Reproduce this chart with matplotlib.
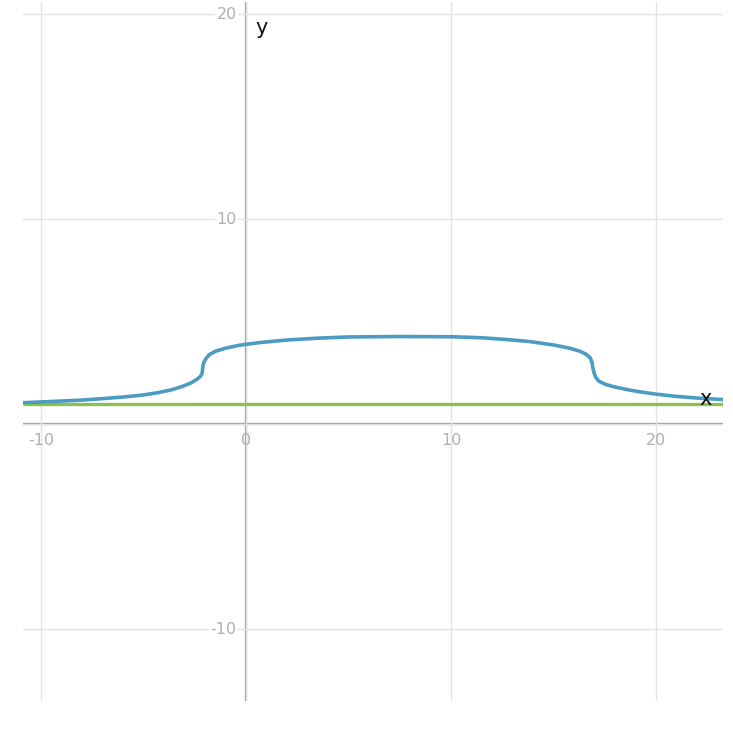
import matplotlib
matplotlib.use("Agg")
import matplotlib.pyplot as plt

# curve
CURVE_X = [-10.9, -9.5, -8.0, -7.0, -6.0, -5.0, -4.2, -3.6, -3.1, -2.7, -2.4,
           -2.25, -2.15, -2.12, -2.10, -2.05, -1.95, -1.8, -1.5, -1.0, -0.3,
           0.7, 2.0, 3.5, 5.0, 7.5, 10.0, 11.5, 12.5, 13.8, 15.0, 15.8, 16.3,
           16.6, 16.8, 16.88, 16.92, 16.98, 17.05, 17.2, 17.5, 17.9, 18.6,
           19.3, 20.0, 21.0, 22.0, 23.3]
CURVE_Y = [1.04, 1.10, 1.17, 1.24, 1.32, 1.42, 1.55, 1.68, 1.84, 2.00, 2.18,
           2.30, 2.45, 2.65, 2.85, 3.02, 3.20, 3.38, 3.55, 3.70, 3.85,
           3.98, 4.10, 4.19, 4.25, 4.27, 4.26, 4.21, 4.14, 4.03, 3.86, 3.70,
           3.55, 3.40, 3.22, 3.00, 2.75, 2.50, 2.30, 2.10, 1.95, 1.83, 1.68,
           1.56, 1.46, 1.35, 1.27, 1.19]
LEVEL_Y = 1.0

X_TICKS = [-10, 0, 10, 20]
Y_TICKS = [-10, 10, 20]

XLIM = (-10.88, 23.27)
YLIM = (-13.51, 20.59)

W, H = 733, 734
fig = plt.figure(figsize=(W / 100, H / 100), dpi=100)
ax = fig.add_axes([23 / W, 1 - 701 / H, 700 / W, 699 / H])
ax.set_xlim(*XLIM)
ax.set_ylim(*YLIM)
for s in ax.spines.values():
    s.set_visible(False)
ax.set_xticks(X_TICKS)
ax.set_yticks([-10, 0, 10, 20])
ax.tick_params(length=0, labelbottom=False, labelleft=False)
ax.grid(True, color="#e3e3e3", lw=1.0, zorder=0)

ax.axhline(0, color="#9a9a9a", lw=1.6, zorder=1)
ax.axvline(0, color="#9a9a9a", lw=1.6, zorder=1)

ax.plot(XLIM, [LEVEL_Y, LEVEL_Y], color="#8cc152", lw=2.4, zorder=2,
        solid_capstyle="butt")
ax.plot(CURVE_X, CURVE_Y, color="#4b9bc3", lw=2.6, zorder=3,
        solid_capstyle="butt", solid_joinstyle="round")

for t in X_TICKS:
    ax.text(t, -0.8, f"{t}", color="#b0b0b0", fontsize=11.5,
            ha="center", va="center", zorder=4)
for t in Y_TICKS:
    ax.text(-0.45, t, f"{t}", color="#b0b0b0", fontsize=11.5,
            ha="right", va="center", zorder=4,
            bbox=dict(facecolor="white", edgecolor="none", pad=1))

ax.text(0.45, 19.3, "y", fontsize=15, color="#111111", ha="left", va="center")
ax.text(22.4, 1.2, "x", fontsize=15, color="#111111", ha="center", va="center",
        zorder=5)

fig.savefig("out.png", dpi=100)
